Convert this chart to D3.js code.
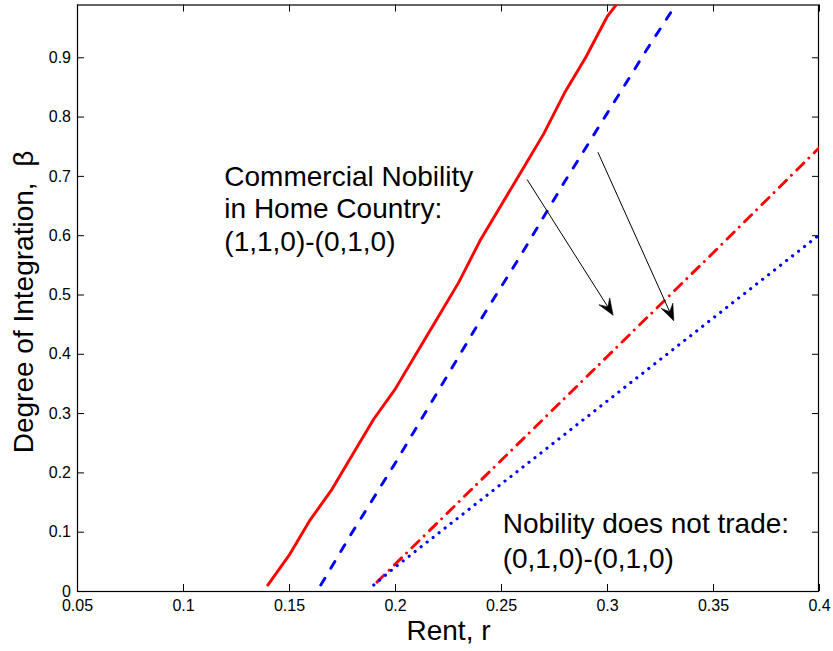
<!DOCTYPE html>
<html>
<head>
<meta charset="utf-8">
<script src="https://cdn.jsdelivr.net/npm/d3@7"></script>
<style>
  html, body { margin: 0; padding: 0; background: #fff; }
  svg { display: block; }
  text { font-family: "Liberation Sans", Arial, Helvetica, sans-serif; fill: #000; }
</style>
</head>
<body>
<script>
// ---- data ----
const xTicks = [0.05, 0.1, 0.15, 0.2, 0.25, 0.3, 0.35, 0.4];
const xTickLabels = ["0.05", "0.1", "0.15", "0.2", "0.25", "0.3", "0.35", "0.4"];
const yTicks = [0, 0.1, 0.2, 0.3, 0.4, 0.5, 0.6, 0.7, 0.8, 0.9];
const yTickLabels = ["0", "0.1", "0.2", "0.3", "0.4", "0.5", "0.6", "0.7", "0.8", "0.9"];

// red solid
const rentRedSolid = [0.14, 0.15, 0.16, 0.17, 0.18, 0.19, 0.20, 0.21, 0.22, 0.23, 0.24, 0.25, 0.26, 0.27, 0.28, 0.29, 0.30, 0.31];
const betaRedSolid = [0.01, 0.06, 0.12, 0.17, 0.23, 0.29, 0.34, 0.40, 0.46, 0.52, 0.59, 0.65, 0.71, 0.77, 0.84, 0.90, 0.968, 1.015];
// blue dashed
const rentBlueDashed = [0.165, 0.18, 0.20, 0.22, 0.24, 0.26, 0.28, 0.30, 0.32, 0.33];
const betaBlueDashed = [0.01, 0.10, 0.215, 0.335, 0.455, 0.57, 0.69, 0.805, 0.92, 0.975];
// red dash-dot
const rentRedDashDot = [0.1915, 0.20, 0.25, 0.30, 0.35, 0.40];
const betaRedDashDot = [0.015, 0.045, 0.22, 0.395, 0.57, 0.747];
// blue dotted
const rentBlueDotted = [0.19, 0.20, 0.25, 0.30, 0.35, 0.40];
const betaBlueDotted = [0.01, 0.04, 0.18, 0.32, 0.46, 0.60];

// arrows (data coordinates)
const arrowFromX = [0.2623, 0.2957];
const arrowFromY = [0.694, 0.740];
const arrowToX = [0.3029, 0.3315];
const arrowToY = [0.465, 0.4556];

// annotations
const note1Lines = ["Commercial Nobility", "in Home Country:", "(1,1,0)-(0,1,0)"];
const note1Pos = [0.1195, 0.683];
const note2Lines = ["Nobility does not trade:", "(0,1,0)-(0,1,0)"];
const note2Pos = [0.2508, 0.097];

const xLabel = "Rent, r";
const yLabel = "Degree of Integration,  \u03B2";

// ---- drawing ----
const W = 833, H = 651;
const L = 77, R = 819, T = 4.5, B = 591;

const svg = d3.select("body").append("svg")
  .attr("width", W).attr("height", H);

const x = d3.scaleLinear().domain([0.05, 0.4]).range([L, R]);
const y = d3.scaleLinear().domain([0, 0.989]).range([B, T]);

svg.append("defs").append("clipPath").attr("id", "plotclip")
  .append("rect").attr("x", L).attr("y", T).attr("width", R - L).attr("height", B - T);

// frame
svg.append("rect")
  .attr("x", L + 0.5).attr("y", T + 0.5)
  .attr("width", R - L - 1).attr("height", B - T)
  .attr("fill", "none").attr("stroke", "#000").attr("stroke-width", 1.2);

const tickLen = 7;
const fmtX = (d, i) => xTickLabels[i];
const fmtY = (d, i) => yTickLabels[i];

const gx = svg.append("g").attr("transform", `translate(0,${B})`)
  .call(d3.axisBottom(x).tickValues(xTicks).tickFormat(fmtX)
    .tickSizeInner(-tickLen).tickSizeOuter(0).tickPadding(9));
const gy = svg.append("g").attr("transform", `translate(${L},0)`)
  .call(d3.axisLeft(y).tickValues(yTicks).tickFormat(fmtY)
    .tickSizeInner(-tickLen).tickSizeOuter(0).tickPadding(6));
const gt = svg.append("g").attr("transform", `translate(0,${T})`)
  .call(d3.axisTop(x).tickValues(xTicks).tickFormat(() => "")
    .tickSizeInner(-tickLen).tickSizeOuter(0));
const gr = svg.append("g").attr("transform", `translate(${R},0)`)
  .call(d3.axisRight(y).tickValues(yTicks).tickFormat(() => "")
    .tickSizeInner(-tickLen).tickSizeOuter(0));

[gx, gy, gt, gr].forEach(g => {
  g.select(".domain").remove();
  g.attr("font-size", 16).attr("font-family", '"Liberation Sans", Arial, sans-serif');
  g.selectAll(".tick line").attr("stroke", "#000").attr("stroke-width", 1);
  g.selectAll(".tick text")
    .attr("font-size", 16)
    .style("font-size", "16px").attr("fill", "#000");
});

// lines
const lineGen = d3.line().x(d => x(d[0])).y(d => y(d[1]));
const plot = svg.append("g").attr("clip-path", "url(#plotclip)");

function addSeries(rs, bs, color, dash, width) {
  const pts = rs.map((r, i) => [r, bs[i]]);
  plot.append("path")
    .attr("d", lineGen(pts))
    .attr("fill", "none")
    .attr("stroke", color)
    .attr("stroke-width", width)
    .attr("stroke-linecap", "round")
    .attr("stroke-linejoin", "round")
    .attr("stroke-dasharray", dash);
}
addSeries(rentRedSolid, betaRedSolid, "#ff0000", null, 2.9);
addSeries(rentBlueDashed, betaBlueDashed, "#0000ff", "8,11.5", 2.9);
addSeries(rentRedDashDot, betaRedDashDot, "#ff0000", "10,7,0.01,7.5", 2.9);
addSeries(rentBlueDotted, betaBlueDotted, "#0000ff", "0.01,7.6", 3.2);

// arrows
const headL = 16.5, headW = 6.4, notch = 0.6;
arrowFromX.forEach((fx, i) => {
  const x0 = x(fx), y0 = y(arrowFromY[i]);
  const x1 = x(arrowToX[i]), y1 = y(arrowToY[i]);
  const dx = x1 - x0, dy = y1 - y0;
  const len = Math.hypot(dx, dy);
  const ux = dx / len, uy = dy / len;
  const px = -uy, py = ux;
  svg.append("line")
    .attr("x1", x0).attr("y1", y0)
    .attr("x2", x1 - ux * headL * notch).attr("y2", y1 - uy * headL * notch)
    .attr("stroke", "#000").attr("stroke-width", 1);
  const p = [
    [x1, y1],
    [x1 - ux * headL + px * headW, y1 - uy * headL + py * headW],
    [x1 - ux * headL * notch, y1 - uy * headL * notch],
    [x1 - ux * headL - px * headW, y1 - uy * headL - py * headW]
  ];
  svg.append("path")
    .attr("d", "M" + p.map(q => q.join(",")).join("L") + "Z")
    .attr("fill", "#000").attr("stroke", "#000").attr("stroke-width", 0.6)
    .attr("stroke-linejoin", "miter");
});

// annotations
function addNote(lines, pos, spacing) {
  const t = svg.append("text")
    .attr("x", x(pos[0])).attr("y", y(pos[1]))
    .style("font-size", "28px");
  lines.forEach((s, i) => {
    t.append("tspan").attr("x", x(pos[0])).attr("dy", i === 0 ? 0 : spacing).text(s);
  });
}
addNote(note1Lines, note1Pos, 32.5);
addNote(note2Lines, note2Pos, 35);

// axis labels
svg.append("text")
  .attr("x", (L + R) / 2 + 0.5).attr("y", 640)
  .attr("text-anchor", "middle")
  .style("font-size", "28px")
  .text(xLabel);

svg.append("text")
  .attr("transform", `translate(33,302) rotate(-90)`)
  .attr("text-anchor", "middle")
  .style("font-size", "28px")
  .style("white-space", "pre")
  .attr("xml:space", "preserve")
  .text(yLabel);
</script>
</body>
</html>
